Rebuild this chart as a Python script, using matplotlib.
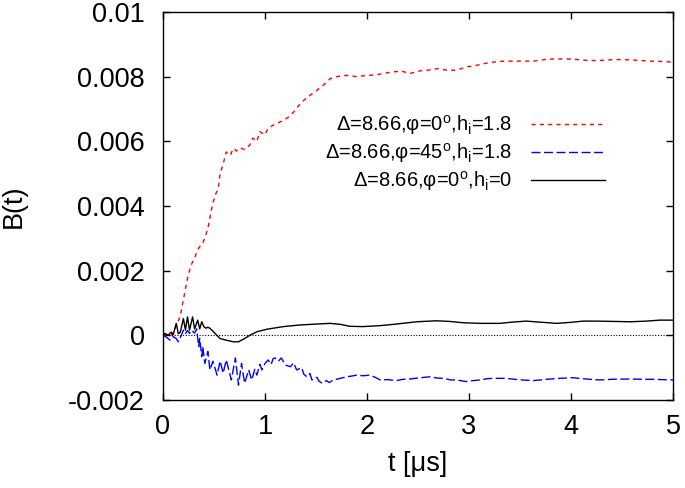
import matplotlib
matplotlib.use("Agg")
import matplotlib.pyplot as plt

plt.rcParams["font.family"] = ["Liberation Sans", "DejaVu Sans"]
plt.rcParams["mathtext.fontset"] = "custom"
plt.rcParams["mathtext.rm"] = "Liberation Sans"

# ── data ─────────────────────────────────────────────────────────────────────
t_red = [0, 0.04, 0.07, 0.1, 0.13, 0.17, 0.2, 0.23, 0.25, 0.28, 0.31, 0.35,
         0.39, 0.42, 0.44, 0.47, 0.49, 0.52, 0.54, 0.56, 0.59, 0.62, 0.66,
         0.69, 0.72, 0.75, 0.80, 0.85, 0.88, 0.92, 0.95, 1.0, 1.03, 1.08,
         1.13, 1.18, 1.23, 1.28, 1.33, 1.38, 1.44, 1.51, 1.57, 1.64, 1.70,
         1.80, 1.90, 2.0, 2.08, 2.16, 2.26, 2.34, 2.42, 2.52, 2.60, 2.70,
         2.78, 2.88, 2.97, 3.06, 3.14, 3.24, 3.34, 3.43, 3.53, 3.63, 3.75,
         3.84, 3.96, 4.06, 4.17, 4.28, 4.38, 4.48, 4.58, 4.68, 4.79, 4.89, 5.0]
b_red = [0, 0.00002, -0.00004, 0.0001, 0.0003, 0.0006, 0.0011, 0.0016, 0.0019,
         0.0022, 0.0024, 0.0027, 0.00285, 0.0031, 0.0033, 0.0038, 0.0041,
         0.0044, 0.0045, 0.0050, 0.0053, 0.00567, 0.00557, 0.00578, 0.0057,
         0.0058, 0.00575, 0.00588, 0.0061, 0.0060, 0.0063, 0.0062, 0.0064,
         0.0065, 0.00657, 0.00665, 0.00675, 0.0069, 0.0071, 0.00727, 0.00742,
         0.00758, 0.00773, 0.00794, 0.0080, 0.00804, 0.0080, 0.00804, 0.00805,
         0.0081, 0.00815, 0.00817, 0.0081, 0.00818, 0.0082, 0.00825, 0.0082,
         0.0082, 0.0083, 0.00834, 0.0084, 0.00845, 0.00848, 0.00848, 0.00848,
         0.00848, 0.00853, 0.00855, 0.00855, 0.00853, 0.0085, 0.0085, 0.00852,
         0.00853, 0.00852, 0.0085, 0.00848, 0.00847, 0.00845]

t_blue = [0, 0.03, 0.07, 0.1, 0.13, 0.15, 0.18, 0.2, 0.22, 0.24, 0.26, 0.28,
          0.31, 0.33, 0.35, 0.36, 0.38, 0.39, 0.41, 0.44, 0.46, 0.49, 0.53,
          0.56, 0.59, 0.62, 0.67, 0.71, 0.74, 0.77, 0.80, 0.84, 0.87, 0.90,
          0.92, 0.95, 0.97, 1.0, 1.03, 1.06, 1.08, 1.10, 1.13, 1.16, 1.2,
          1.25, 1.28, 1.31, 1.36, 1.38, 1.41, 1.44, 1.46, 1.51, 1.53, 1.56,
          1.60, 1.63, 1.67, 1.74, 1.80, 1.85, 1.90, 1.96, 2.03, 2.08, 2.13,
          2.20, 2.29, 2.35, 2.42, 2.5, 2.56, 2.62, 2.68, 2.75, 2.82, 2.88,
          2.97, 3.04, 3.11, 3.18, 3.24, 3.35, 3.45, 3.52, 3.63, 3.7, 3.76,
          3.89, 4.02, 4.10, 4.15, 4.22, 4.28, 4.4, 4.58, 4.7, 4.8, 4.9, 5.0]
b_blue = [0, -0.00005, -0.00015, -0.00004, -0.0001, -0.0002, 0.0, 0.00016,
          0.00005, 0.00015, 0.00006, 0.00016, 0.00007, 0.0002, -0.00035,
          -0.0001, -0.00066, -0.00035, -0.00087, -0.0005, -0.00107, -0.0008,
          -0.00123, -0.0008, -0.00117, -0.00076, -0.00138, -0.0007, -0.00154,
          -0.00087, -0.00148, -0.00107, -0.00138, -0.00105, -0.00123, -0.0009,
          -0.00107, -0.00087, -0.00076, -0.0009, -0.00072, -0.0007, -0.0008,
          -0.0007, -0.00092, -0.00097, -0.00085, -0.00107, -0.001, -0.0012,
          -0.00128, -0.00118, -0.00138, -0.0013, -0.00142, -0.00148, -0.0014,
          -0.00146, -0.00138, -0.00133, -0.00128, -0.00126, -0.00123, -0.00125,
          -0.00123, -0.0013, -0.00138, -0.00137, -0.0014, -0.00136, -0.00135,
          -0.00132, -0.0013, -0.00128, -0.00132, -0.00133, -0.00138, -0.00138,
          -0.00143, -0.0014, -0.00138, -0.00134, -0.00133, -0.00133, -0.00136,
          -0.00138, -0.0014, -0.00138, -0.00136, -0.00133, -0.00131, -0.00134,
          -0.00135, -0.00137, -0.00138, -0.00136, -0.00135, -0.00136, -0.00136,
          -0.00137, -0.00138]

t_black = [0, 0.02, 0.05, 0.08, 0.1, 0.13, 0.15, 0.17, 0.20, 0.22, 0.24, 0.26,
           0.29, 0.31, 0.34, 0.36, 0.38, 0.40, 0.42, 0.44, 0.46, 0.51, 0.56,
           0.62, 0.69, 0.74, 0.80, 0.85, 0.92, 1.02, 1.18, 1.34, 1.51, 1.64,
           1.74, 1.83, 1.96, 2.13, 2.29, 2.49, 2.68, 2.81, 2.94, 3.11, 3.30,
           3.43, 3.56, 3.73, 3.86, 3.99, 4.12, 4.25, 4.42, 4.58, 4.74, 4.87, 5.0]
b_black = [0, 0.00006, 0.0, 0.0001, 0.00002, 0.00037, 0.00005, 0.0001, 0.00052,
           0.00016, 0.00057, 0.00016, 0.00057, 0.0002, 0.00047, 0.0002,
           0.00042, 0.00027, 0.00022, 0.00025, 0.00022, 0.00006, -0.0001,
           -0.00015, -0.0002, -0.0002, -0.0001, 0.0, 0.00011, 0.00019, 0.00027,
           0.00032, 0.00035, 0.00037, 0.00034, 0.00028, 0.00027, 0.0003,
           0.00035, 0.00042, 0.00045, 0.00043, 0.00039, 0.00037, 0.00037,
           0.00041, 0.00044, 0.0004, 0.00037, 0.0004, 0.00044, 0.00044, 0.00043,
           0.00042, 0.00044, 0.00047, 0.00047]

labels = [r"Δ=8.66,φ=0$^\mathregular{o}$,h$_\mathregular{i}$=1.8",
          r"Δ=8.66,φ=45$^\mathregular{o}$,h$_\mathregular{i}$=1.8",
          r"Δ=8.66,φ=0$^\mathregular{o}$,h$_\mathregular{i}$=0"]

y_ticks = [-0.002, 0, 0.002, 0.004, 0.006, 0.008, 0.01]
y_tick_labels = ["-0.002", "0", "0.002", "0.004", "0.006", "0.008", "0.01"]
x_ticks = [0, 1, 2, 3, 4, 5]

# ── plot ─────────────────────────────────────────────────────────────────────
fig = plt.figure(figsize=(6.85, 4.88), dpi=100)
ax = fig.add_axes([163 / 685, 1 - 400 / 488, 510 / 685, 388 / 488])

ax.plot([0, 5], [0, 0], color="black", lw=0.8, ls=(0, (1, 1.5)))
ax.plot(t_red, b_red, color="red", lw=1.0, ls=(0, (3.0, 3.0)), label=labels[0])
ax.plot(t_blue, b_blue, color="blue", lw=1.0, ls=(0, (6.5, 2.5)), label=labels[1])
ax.plot(t_black, b_black, color="black", lw=1.0, label=labels[2])

ax.set_xlim(0, 5)
ax.set_ylim(-0.002, 0.01)
ax.set_xticks(x_ticks)
ax.set_yticks(y_ticks)
ax.set_yticklabels(y_tick_labels)
ax.tick_params(direction="in", length=5, width=1, top=True, right=True,
               labelsize=19.5)
ax.tick_params(axis="y", pad=13)
ax.tick_params(axis="x", pad=10)
for sp in ax.spines.values():
    sp.set_linewidth(1.0)

ax.set_xlabel("t [μs]", fontsize=19.5, labelpad=8)
ax.set_ylabel("B(t)", fontsize=19.5, labelpad=30)

ax.legend(loc="upper right", bbox_to_anchor=(0.867, 0.74), frameon=False,
          markerfirst=False, fontsize=14.5, handlelength=3.7, handletextpad=0.9,
          labelspacing=0.2, borderaxespad=0, borderpad=0)

fig.savefig("out.png", dpi=100)
